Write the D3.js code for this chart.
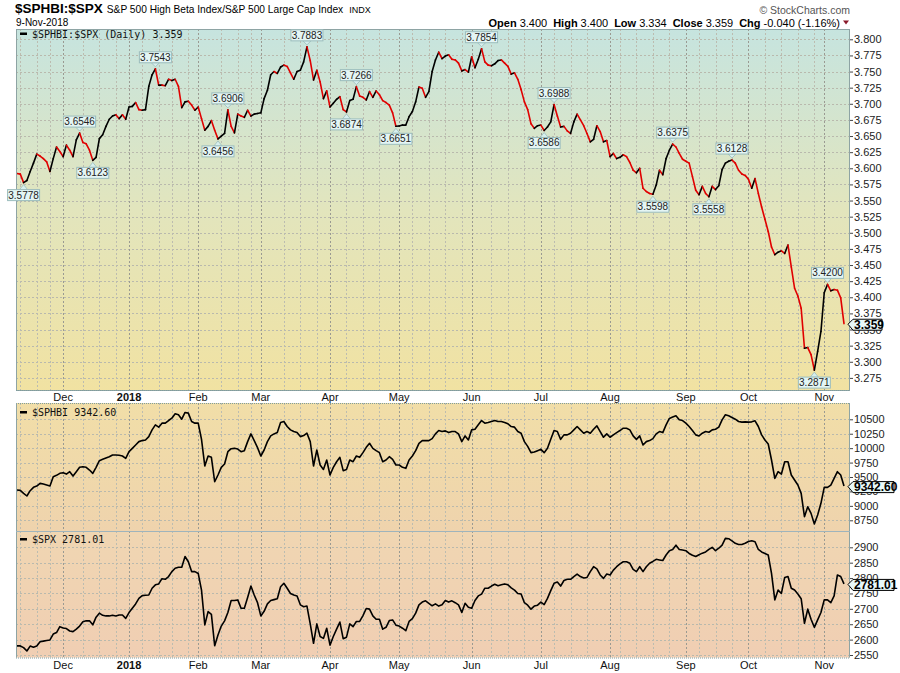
<!DOCTYPE html>
<html><head><meta charset="utf-8">
<script src="https://cdn.jsdelivr.net/npm/d3@7/dist/d3.min.js"></script>
<style>
html,body{margin:0;padding:0;background:#fff;}
svg{display:block;font-family:"Liberation Sans",Arial,sans-serif;}
</style></head><body>
<svg id="chart" width="900" height="673"></svg>
<script>
// ---------------- data ----------------
const startDate = "2017-11-10";
const endDate = "2018-11-09";
const holidays = ["2017-11-23","2017-12-25","2018-01-01","2018-01-15","2018-02-19","2018-03-30","2018-05-28","2018-07-04","2018-09-03"];

const ratioValues = [
3.592,3.591,3.5778,3.581,3.595,3.608,3.622,3.619,3.615,3.610,
3.595,3.615,3.633,3.626,3.618,3.636,3.628,3.618,3.644,3.6546,
3.640,3.638,3.628,3.6123,3.617,3.646,3.652,3.665,3.676,3.681,
3.683,3.677,3.683,3.676,3.695,3.696,3.702,3.691,3.690,3.691,
3.727,3.745,3.7543,3.729,3.729,3.728,3.738,3.736,3.738,3.727,
3.694,3.703,3.704,3.698,3.690,3.695,3.677,3.659,3.665,3.674,
3.659,3.6456,3.650,3.654,3.6906,3.665,3.655,3.684,3.681,3.679,
3.690,3.681,3.684,3.685,3.686,3.708,3.721,3.745,3.750,3.747,
3.757,3.760,3.758,3.748,3.738,3.750,3.752,3.765,3.7883,3.767,
3.737,3.752,3.734,3.708,3.720,3.695,3.701,3.707,3.711,3.691,
3.6874,3.705,3.707,3.7266,3.712,3.710,3.706,3.719,3.710,3.720,
3.714,3.705,3.702,3.698,3.686,3.6651,3.6656,3.667,3.667,3.680,
3.688,3.703,3.726,3.724,3.710,3.719,3.750,3.768,3.780,3.770,
3.774,3.776,3.769,3.768,3.763,3.751,3.753,3.749,3.773,3.756,
3.769,3.7854,3.765,3.760,3.759,3.762,3.767,3.768,3.763,3.758,
3.746,3.748,3.738,3.722,3.703,3.691,3.669,3.662,3.666,3.667,
3.6586,3.664,3.672,3.6988,3.681,3.664,3.665,3.658,3.654,3.672,
3.684,3.675,3.666,3.654,3.641,3.645,3.666,3.657,3.641,3.643,
3.618,3.623,3.615,3.617,3.621,3.618,3.609,3.597,3.593,3.600,
3.569,3.564,3.561,3.5598,3.574,3.597,3.590,3.615,3.628,3.6375,
3.633,3.623,3.614,3.611,3.608,3.587,3.566,3.559,3.572,3.561,
3.5558,3.572,3.567,3.573,3.598,3.608,3.611,3.6128,3.608,3.597,
3.591,3.589,3.583,3.569,3.584,3.561,3.540,3.521,3.502,3.478,
3.466,3.470,3.472,3.468,3.481,3.447,3.414,3.402,3.383,3.321,
3.322,3.311,3.2871,3.316,3.347,3.407,3.4200,3.410,3.412,3.411,
3.399,3.359];

const sphbiValues = [
9275,9269,9217,9171,9263,9321,9344,9390,9378,9361,
9344,9505,9529,9564,9575,9551,9592,9517,9592,9668,
9679,9668,9621,9564,9668,9783,9806,9830,9852,9882,
9882,9876,9864,9824,9939,9997,10055,10113,10131,10142,
10200,10317,10404,10364,10433,10433,10479,10520,10595,10578,
10502,10619,10607,10462,10433,10433,10153,9691,9864,9841,
9418,9535,9668,9725,9939,9991,9997,9985,9939,9957,
10113,10247,10131,10009,9864,9968,10113,10212,10247,10270,
10445,10462,10375,10317,10288,10270,10200,10218,10259,10113,
9691,9968,9708,9632,9795,9535,9668,9765,9841,9610,
9632,9795,9765,9864,9841,9922,10014,10084,9997,9957,
9922,9765,9795,9852,9806,9708,9708,9668,9650,9795,
9864,9957,10084,10131,10131,10131,10165,10247,10305,10288,
10299,10270,10288,10288,10247,10113,10212,10142,10317,10328,
10404,10479,10433,10445,10462,10479,10462,10462,10445,10421,
10375,10364,10288,10259,10113,10031,9922,9933,9957,9979,
9922,9997,10153,10305,10288,10153,10230,10230,10259,10317,
10375,10317,10259,10288,10259,10328,10386,10288,10189,10247,
10189,10230,10270,10305,10346,10346,10317,10212,10153,10212,
10055,10113,10131,10165,10247,10288,10270,10404,10514,10538,
10561,10491,10479,10433,10375,10305,10230,10212,10259,10288,
10276,10317,10328,10364,10491,10578,10561,10532,10502,10462,
10451,10456,10451,10456,10474,10375,10230,10142,10072,9795,
9477,9592,9551,9765,9765,9535,9448,9361,9217,8812,
8985,8870,8685,8842,9044,9321,9321,9361,9477,9592,
9535,9342.60];

const spxValues = [
2579.5,2579.5,2574,2563,2579,2575,2579,2593,2595,2597,
2599,2618,2623,2642,2638,2636,2628,2626,2634,2644,
2658,2661,2661,2648,2673,2686,2679,2677,2677,2679,
2677,2680,2680,2669,2688,2702,2716,2734,2743,2744,
2745,2767,2778,2781,2798,2796,2805,2821,2832,2835,
2835,2870,2853,2821,2821,2815,2761,2648,2691,2682,
2580,2615,2644,2661,2688,2727,2727,2729,2702,2702,
2737,2774,2745,2720,2677,2692,2716,2727,2730,2733,
2772,2783,2767,2750,2745,2742,2713,2707,2709,2651,
2588,2651,2610,2604,2637,2582,2610,2634,2657,2603,
2608,2651,2642,2659,2659,2678,2701,2699,2677,2666,
2666,2634,2640,2662,2664,2647,2644,2637,2629,2659,
2668,2686,2713,2722,2726,2718,2710,2716,2709,2713,
2727,2722,2726,2720,2713,2688,2718,2705,2702,2727,
2742,2748,2767,2767,2774,2780,2775,2778,2781,2778,
2768,2761,2750,2748,2720,2712,2699,2709,2712,2722,
2714,2734,2759,2783,2787,2774,2792,2796,2796,2805,
2813,2805,2800,2802,2821,2837,2830,2810,2799,2813,
2810,2826,2837,2846,2853,2853,2848,2828,2821,2837,
2821,2837,2848,2854,2861,2859,2857,2875,2889,2893,
2907,2893,2891,2889,2880,2874,2870,2876,2881,2885,
2893,2900,2889,2897,2907,2929,2928,2921,2913,2909,
2909,2913,2919,2921,2918,2893,2885,2880,2875,2815,
2729,2761,2750,2802,2805,2767,2761,2748,2733,2653,
2699,2666,2640,2664,2688,2729,2729,2720,2742,2810,
2805,2781.01];

const ratioTicks = [3.275,3.300,3.325,3.350,3.375,3.400,3.425,3.450,3.475,3.500,3.525,3.550,3.575,3.600,3.625,3.650,3.675,3.700,3.725,3.750,3.775,3.800];
const sphbiTicks = [8750,9000,9250,9500,9750,10000,10250,10500];
const spxTicks = [2550,2600,2650,2700,2750,2800,2850,2900];
const monthNames = ["2018","Feb","Mar","Apr","May","Jun","Jul","Aug","Sep","Oct","Nov","Dec"];

// peak / trough labels on the ratio line: [index, label, kind]
const ratioMarks = [
[2,"3.5778","low"],[19,"3.6546","high"],[23,"3.6123","low"],[42,"3.7543","high"],
[61,"3.6456","low"],[64,"3.6906","high"],[88,"3.7883","high"],[100,"3.6874","low"],
[103,"3.7266","high"],[115,"3.6651","low"],[141,"3.7854","high"],[160,"3.6586","low"],
[163,"3.6988","high"],[193,"3.5598","low"],[199,"3.6375","high"],[210,"3.5558","low"],
[217,"3.6128","high"],[242,"3.2871","low"],[246,"3.4200","high"]];

const headerStats = [["Open","3.400"],["High","3.400"],["Low","3.334"],["Close","3.359"],["Chg","-0.040 (-1.16%)"]];

// ---------------- build ----------------
const svg = d3.select("#chart");
const parse = d3.utcParse("%Y-%m-%d"), fmtD = d3.utcFormat("%Y-%m-%d");
const hol = new Set(holidays);
const dates = d3.utcDays(parse(startDate), d3.utcDay.offset(parse(endDate), 1))
  .filter(d => d.getUTCDay() % 6 !== 0 && !hol.has(fmtD(d)));
const N = dates.length;

const L = 16, R = 850;
const x = d3.scaleLinear().domain([0, N - 1]).range([17, 844]);

// month / week boundaries
const monthIdx = [], weekIdx = [];
for (let i = 1; i < N; i++) {
  if (dates[i].getUTCMonth() !== dates[i-1].getUTCMonth()) monthIdx.push(i);
  if (dates[i].getUTCDay() < dates[i-1].getUTCDay()) weekIdx.push(i);
}
const weekOnly = weekIdx.filter(w => !monthIdx.some(m => Math.abs(m - w) <= 2));

const panels = [
  {top: 29, bottom: 390, y: d3.scaleLinear().domain([3.275, 3.8]).range([377.9, 39.3]),
   ticks: ratioTicks, fmt: d3.format(".3f"), c0: "#c6e4df", c1: "#e2e5bd", c2: "#f1e2a2"},
  {top: 403, bottom: 531, y: d3.scaleLinear().domain([8750, 10500]).range([520.3, 419.3]),
   ticks: sphbiTicks, fmt: d3.format("d"), c0: "#f1dea8", c1: "#f0d9aa", c2: "#efd3ad"},
  {top: 531, bottom: 657.5, y: d3.scaleLinear().domain([2550, 2900]).range([655, 547.3]),
   ticks: spxTicks, fmt: d3.format("d"), c0: "#f0d6b2", c1: "#f0d2b2", c2: "#f0ceb3"}
];

const defs = svg.append("defs");
panels.forEach((p, k) => {
  const gr = defs.append("linearGradient").attr("id", "bg" + k)
    .attr("gradientUnits", "userSpaceOnUse").attr("x1", 0).attr("x2", 0)
    .attr("y1", p.top).attr("y2", p.bottom);
  gr.append("stop").attr("offset", "0%").attr("stop-color", p.c0);
  gr.append("stop").attr("offset", "50%").attr("stop-color", p.c1);
  gr.append("stop").attr("offset", "100%").attr("stop-color", p.c2);
  defs.append("clipPath").attr("id", "clip" + k).append("rect")
    .attr("x", L).attr("y", p.top).attr("width", R - L).attr("height", p.bottom - p.top);
});

panels.forEach((p, k) => {
  const g = svg.append("g");
  g.append("rect").attr("x", L).attr("y", p.top).attr("width", R - L).attr("height", p.bottom - p.top)
    .attr("fill", `url(#bg${k})`);
  const grid = g.append("g").attr("clip-path", `url(#clip${k})`);
  grid.selectAll("line.h").data(p.ticks).join("line")
    .attr("x1", L).attr("x2", R).attr("y1", d => Math.round(p.y(d)) + 0.5).attr("y2", d => Math.round(p.y(d)) + 0.5)
    .attr("stroke", "#b9b9ad").attr("stroke-dasharray", "2,2").attr("stroke-width", 1);
  grid.selectAll("line.w").data(weekOnly).join("line")
    .attr("x1", d => Math.round(x(d)) + 0.5).attr("x2", d => Math.round(x(d)) + 0.5)
    .attr("y1", p.top).attr("y2", p.bottom)
    .attr("stroke", "#bcbcb0").attr("stroke-dasharray", "2,2").attr("stroke-width", 1);
  grid.selectAll("line.m").data(monthIdx).join("line")
    .attr("x1", d => Math.round(x(d)) + 0.5).attr("x2", d => Math.round(x(d)) + 0.5)
    .attr("y1", p.top).attr("y2", p.bottom)
    .attr("stroke", "#9a9a92").attr("stroke-dasharray", "2,2").attr("stroke-width", 1);
  // right axis
  const ax = d3.axisRight(p.y).tickValues(p.ticks).tickFormat(p.fmt).tickSize(3).tickPadding(1);
  const ag = svg.append("g").attr("transform", `translate(${R},0)`).call(ax);
  ag.select(".domain").remove();
  ag.selectAll("text").attr("font-size", 11).attr("fill", "#222").attr("font-family", '"Liberation Sans",Arial,sans-serif');
  ag.selectAll("line").attr("stroke", "#444");
  p.g = g;
});

// lines
const p1 = panels[0], p2 = panels[1], p3 = panels[2];
const lineG1 = svg.append("g").attr("clip-path", "url(#clip0)");
const segs = d3.pairs(d3.range(N));
lineG1.selectAll("line").data(segs).join("line")
  .attr("x1", d => x(d[0])).attr("y1", d => p1.y(ratioValues[d[0]]))
  .attr("x2", d => x(d[1])).attr("y2", d => p1.y(ratioValues[d[1]]))
  .attr("stroke", d => ratioValues[d[1]] >= ratioValues[d[0]] ? "#000" : "#e00000")
  .attr("stroke-width", 1.6).attr("stroke-linecap", "round");

const mkLine = (y, vals) => d3.line().x((d, i) => x(i)).y(d => y(d))(vals);
svg.append("path").attr("clip-path", "url(#clip1)").attr("d", mkLine(p2.y, sphbiValues))
  .attr("fill", "none").attr("stroke", "#000").attr("stroke-width", 1.6).attr("stroke-linejoin", "round");
svg.append("path").attr("clip-path", "url(#clip2)").attr("d", mkLine(p3.y, spxValues))
  .attr("fill", "none").attr("stroke", "#000").attr("stroke-width", 1.6).attr("stroke-linejoin", "round");

// panel borders
const bc = "#8ea4a4";
svg.append("rect").attr("x", L + 0.5).attr("y", p1.top + 0.5).attr("width", R - L - 1).attr("height", p1.bottom - p1.top)
  .attr("fill", "none").attr("stroke", bc);
svg.append("line").attr("x1", L).attr("x2", R).attr("y1", p1.bottom + 0.5).attr("y2", p1.bottom + 0.5)
  .attr("stroke", "#7f9c9c").attr("stroke-dasharray", "1,1");
svg.append("line").attr("x1", L).attr("x2", R).attr("y1", p2.top + 0.5).attr("y2", p2.top + 0.5)
  .attr("stroke", "#7f9c9c").attr("stroke-dasharray", "1,1");
svg.append("line").attr("x1", L + 0.5).attr("x2", L + 0.5).attr("y1", p2.top).attr("y2", p3.bottom).attr("stroke", bc);
svg.append("line").attr("x1", R - 0.5).attr("x2", R - 0.5).attr("y1", p2.top).attr("y2", p3.bottom).attr("stroke", bc);
svg.append("line").attr("x1", L).attr("x2", R).attr("y1", p3.top + 0.5).attr("y2", p3.top + 0.5).attr("stroke", "#9fb4bc");
svg.append("line").attr("x1", L).attr("x2", R).attr("y1", p3.bottom + 0.5).attr("y2", p3.bottom + 0.5)
  .attr("stroke", "#7f9c9c").attr("stroke-dasharray", "1,1");

// month labels
const monthLabel = i => { const m = dates[i].getUTCMonth(); return m === 0 ? monthNames[0] : monthNames[m]; };
[401, 669].forEach(yy => {
  svg.append("g").selectAll("text").data(monthIdx).join("text")
    .attr("x", d => x(d)).attr("y", yy).attr("text-anchor", "middle")
    .attr("font-size", 11).attr("fill", "#111")
    .attr("font-weight", d => dates[d].getUTCMonth() === 0 ? "bold" : "normal")
    .text(monthLabel);
});

// peak / trough annotations
const ann = svg.append("g");
ratioMarks.forEach(([i, label, kind]) => {
  const px = x(i), py = p1.y(ratioValues[i]);
  const w = 32, h = 11;
  const g = ann.append("g");
  const by = kind === "high" ? py - 6 - h : py + 7;
  const edge = kind === "high" ? by + h : by;
  const tip = kind === "high" ? py - 2 : py + 2;
  g.append("path").attr("d", `M${px-4},${edge} L${px+4},${edge} L${px},${tip} Z`).attr("fill", "#d7efee").attr("stroke", "#9bbcbc").attr("stroke-width", 0.8);
  g.append("rect").attr("x", px - w/2).attr("y", by).attr("width", w).attr("height", h).attr("fill", "#e4f5f4").attr("stroke", "#9bbcbc");
  g.append("text").attr("x", px).attr("y", by + 9).attr("text-anchor", "middle").attr("font-size", 10).attr("fill", "#222").text(label);
});

// last value boxes
function lastBox(y, text, w) {
  const g = svg.append("g");
  g.append("path").attr("d", `M${R-2},${y} L${R+3},${y-5} L${R+2+w},${y-5} L${R+2+w},${y+6} L${R+3},${y+6} Z`)
    .attr("fill", "#e9f9f9").attr("stroke", "#000").attr("stroke-width", 1);
  g.append("text").attr("x", R + 4).attr("y", y + 4.5).attr("font-size", 12).attr("font-weight", "bold")
    .attr("fill", "#000").text(text);
}
lastBox(p1.y(ratioValues[N-1]) + 0.5, "3.359", 30);
lastBox(p2.y(sphbiValues[N-1]) + 0.5, "9342.60", 42);
lastBox(p3.y(spxValues[N-1]) + 0.5, "2781.01", 42);

// legends
const mono = '"DejaVu Sans Mono",monospace';
[[37.5, "$SPHBI:$SPX (Daily) 3.359"], [416, "$SPHBI 9342.60"], [543, "$SPX 2781.01"]].forEach(([yy, t]) => {
  svg.append("rect").attr("x", 20).attr("y", yy - 5).attr("width", 7).attr("height", 2.5).attr("fill", "#000");
  svg.append("text").attr("x", 32).attr("y", yy).attr("font-family", mono).attr("font-size", 10).attr("fill", "#111").text(t);
});

// header
const t1 = svg.append("text").attr("x", 15).attr("y", 13).attr("fill", "#000");
t1.append("tspan").attr("font-size", 13.5).attr("font-weight", "bold").text("$SPHBI:$SPX");
t1.append("tspan").attr("font-size", 10.2).attr("dx", 4).text("S&P 500 High Beta Index/S&P 500 Large Cap Index");
t1.append("tspan").attr("font-size", 9).attr("dx", 6).text("INDX");
svg.append("text").attr("x", 16).attr("y", 26).attr("font-size", 10).attr("fill", "#000").text("9-Nov-2018");
svg.append("text").attr("x", 850).attr("y", 14).attr("text-anchor", "end").attr("font-size", 10.5).attr("fill", "#555").text("\u00A9 StockCharts.com");
const t2 = svg.append("text").attr("x", 840).attr("y", 26.5).attr("text-anchor", "end").attr("font-size", 11).attr("fill", "#000");
headerStats.forEach(([k, v], j) => {
  t2.append("tspan").attr("font-weight", "bold").attr("dx", j ? 6 : 0).text(k);
  t2.append("tspan").attr("dx", 3).text(v);
});
svg.append("path").attr("d", "M843,20.5 L849,20.5 L846,24.5 Z").attr("fill", "#8b1a2b");
</script>
</body></html>
